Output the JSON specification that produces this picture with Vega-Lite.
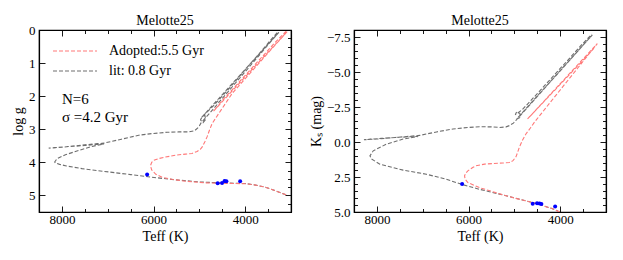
{
  "$schema": "https://vega.github.io/schema/vega-lite/v6.json",
  "padding": {"left": 10, "top": 13, "right": 5, "bottom": 5},
  "background": "white",
  "config": {
    "font": "Liberation Serif",
    "view": {"stroke": "black", "strokeWidth": 1.2},
    "axis": {
      "domainColor": "black", "domainWidth": 1.2,
      "tickColor": "black", "tickWidth": 0.9,
      "labelFont": "Liberation Serif", "labelFontSize": 13, "labelColor": "black",
      "titleFont": "Liberation Serif", "titleFontSize": 14, "titleFontWeight": "normal", "titleColor": "black",
      "labelPadding": 10, "titlePadding": 3, "grid": false, "labelFlush": false, "labelOverlap": false, "minExtent": 0, "zindex": 1
    },
    "axisBottom": {"labelPadding": 7, "titlePadding": 1},
    "title": {"font": "Liberation Serif", "fontSize": 14, "fontWeight": "normal", "color": "black", "offset": -4, "frame": "group"}
  },
  "datasets": {
    "isoG": [
      {"s": "lit: 0.8 Gyr", "i": 1, "teff": 3107, "logg": 4.98},
      {"s": "lit: 0.8 Gyr", "i": 2, "teff": 3300, "logg": 4.88},
      {"s": "lit: 0.8 Gyr", "i": 3, "teff": 3557, "logg": 4.75},
      {"s": "lit: 0.8 Gyr", "i": 4, "teff": 3800, "logg": 4.68},
      {"s": "lit: 0.8 Gyr", "i": 5, "teff": 4000, "logg": 4.64},
      {"s": "lit: 0.8 Gyr", "i": 6, "teff": 4500, "logg": 4.62},
      {"s": "lit: 0.8 Gyr", "i": 7, "teff": 5013, "logg": 4.59},
      {"s": "lit: 0.8 Gyr", "i": 8, "teff": 5500, "logg": 4.53},
      {"s": "lit: 0.8 Gyr", "i": 9, "teff": 6033, "logg": 4.45},
      {"s": "lit: 0.8 Gyr", "i": 10, "teff": 6500, "logg": 4.37},
      {"s": "lit: 0.8 Gyr", "i": 11, "teff": 6978, "logg": 4.29},
      {"s": "lit: 0.8 Gyr", "i": 12, "teff": 7561, "logg": 4.19},
      {"s": "lit: 0.8 Gyr", "i": 13, "teff": 7900, "logg": 4.11},
      {"s": "lit: 0.8 Gyr", "i": 14, "teff": 8050, "logg": 4.06},
      {"s": "lit: 0.8 Gyr", "i": 15, "teff": 8140, "logg": 4.02},
      {"s": "lit: 0.8 Gyr", "i": 16, "teff": 8157, "logg": 3.99},
      {"s": "lit: 0.8 Gyr", "i": 17, "teff": 8107, "logg": 3.89},
      {"s": "lit: 0.8 Gyr", "i": 18, "teff": 7924, "logg": 3.77},
      {"s": "lit: 0.8 Gyr", "i": 19, "teff": 7633, "logg": 3.64},
      {"s": "lit: 0.8 Gyr", "i": 20, "teff": 7343, "logg": 3.52},
      {"s": "lit: 0.8 Gyr", "i": 21, "teff": 7080, "logg": 3.44},
      {"s": "lit: 0.8 Gyr", "i": 22, "teff": 7500, "logg": 3.49},
      {"s": "lit: 0.8 Gyr", "i": 23, "teff": 7900, "logg": 3.53},
      {"s": "lit: 0.8 Gyr", "i": 24, "teff": 8288, "logg": 3.57},
      {"s": "lit: 0.8 Gyr", "i": 25, "teff": 8000, "logg": 3.545},
      {"s": "lit: 0.8 Gyr", "i": 26, "teff": 7500, "logg": 3.47},
      {"s": "lit: 0.8 Gyr", "i": 27, "teff": 7087, "logg": 3.42},
      {"s": "lit: 0.8 Gyr", "i": 28, "teff": 6700, "logg": 3.30},
      {"s": "lit: 0.8 Gyr", "i": 29, "teff": 6323, "logg": 3.18},
      {"s": "lit: 0.8 Gyr", "i": 30, "teff": 6033, "logg": 3.13},
      {"s": "lit: 0.8 Gyr", "i": 31, "teff": 5700, "logg": 3.09},
      {"s": "lit: 0.8 Gyr", "i": 32, "teff": 5450, "logg": 3.08},
      {"s": "lit: 0.8 Gyr", "i": 33, "teff": 5232, "logg": 3.08},
      {"s": "lit: 0.8 Gyr", "i": 34, "teff": 5100, "logg": 3.04},
      {"s": "lit: 0.8 Gyr", "i": 35, "teff": 5013, "logg": 2.93},
      {"s": "lit: 0.8 Gyr", "i": 36, "teff": 4960, "logg": 2.80},
      {"s": "lit: 0.8 Gyr", "i": 37, "teff": 4686, "logg": 2.37},
      {"s": "lit: 0.8 Gyr", "i": 38, "teff": 4358, "logg": 1.84},
      {"s": "lit: 0.8 Gyr", "i": 39, "teff": 4031, "logg": 1.31},
      {"s": "lit: 0.8 Gyr", "i": 40, "teff": 3703, "logg": 0.78},
      {"s": "lit: 0.8 Gyr", "i": 41, "teff": 3441, "logg": 0.35},
      {"s": "lit: 0.8 Gyr", "i": 42, "teff": 3266, "logg": 0.07},
      {"s": "lit: 0.8 Gyr", "i": 43, "teff": 4950, "logg": 2.64},
      {"s": "lit: 0.8 Gyr", "i": 44, "teff": 4880, "logg": 2.58},
      {"s": "lit: 0.8 Gyr", "i": 45, "teff": 4860, "logg": 2.70},
      {"s": "lit: 0.8 Gyr", "i": 46, "teff": 4920, "logg": 2.80},
      {"s": "lit: 0.8 Gyr", "i": 47, "teff": 4975, "logg": 2.72},
      {"s": "lit: 0.8 Gyr", "i": 48, "teff": 4940, "logg": 2.62},
      {"s": "lit: 0.8 Gyr", "i": 49, "teff": 4700, "logg": 2.30},
      {"s": "lit: 0.8 Gyr", "i": 50, "teff": 4358, "logg": 1.78},
      {"s": "lit: 0.8 Gyr", "i": 51, "teff": 4031, "logg": 1.25},
      {"s": "lit: 0.8 Gyr", "i": 52, "teff": 3703, "logg": 0.73},
      {"s": "lit: 0.8 Gyr", "i": 53, "teff": 3441, "logg": 0.30},
      {"s": "lit: 0.8 Gyr", "i": 54, "teff": 3280, "logg": 0.05},
      {"s": "Adopted:5.5 Gyr", "i": 1, "teff": 3107, "logg": 4.98},
      {"s": "Adopted:5.5 Gyr", "i": 2, "teff": 3300, "logg": 4.88},
      {"s": "Adopted:5.5 Gyr", "i": 3, "teff": 3557, "logg": 4.75},
      {"s": "Adopted:5.5 Gyr", "i": 4, "teff": 3800, "logg": 4.68},
      {"s": "Adopted:5.5 Gyr", "i": 5, "teff": 4000, "logg": 4.645},
      {"s": "Adopted:5.5 Gyr", "i": 6, "teff": 4500, "logg": 4.63},
      {"s": "Adopted:5.5 Gyr", "i": 7, "teff": 4867, "logg": 4.62},
      {"s": "Adopted:5.5 Gyr", "i": 8, "teff": 5303, "logg": 4.57},
      {"s": "Adopted:5.5 Gyr", "i": 9, "teff": 5600, "logg": 4.51},
      {"s": "Adopted:5.5 Gyr", "i": 10, "teff": 5814, "logg": 4.45},
      {"s": "Adopted:5.5 Gyr", "i": 11, "teff": 5950, "logg": 4.36},
      {"s": "Adopted:5.5 Gyr", "i": 12, "teff": 6040, "logg": 4.23},
      {"s": "Adopted:5.5 Gyr", "i": 13, "teff": 6068, "logg": 4.10},
      {"s": "Adopted:5.5 Gyr", "i": 14, "teff": 6040, "logg": 4.00},
      {"s": "Adopted:5.5 Gyr", "i": 15, "teff": 5996, "logg": 3.94},
      {"s": "Adopted:5.5 Gyr", "i": 16, "teff": 5900, "logg": 3.89},
      {"s": "Adopted:5.5 Gyr", "i": 17, "teff": 5740, "logg": 3.84},
      {"s": "Adopted:5.5 Gyr", "i": 18, "teff": 5500, "logg": 3.78},
      {"s": "Adopted:5.5 Gyr", "i": 19, "teff": 5303, "logg": 3.75},
      {"s": "Adopted:5.5 Gyr", "i": 20, "teff": 5160, "logg": 3.73},
      {"s": "Adopted:5.5 Gyr", "i": 21, "teff": 5050, "logg": 3.67},
      {"s": "Adopted:5.5 Gyr", "i": 22, "teff": 4980, "logg": 3.61},
      {"s": "Adopted:5.5 Gyr", "i": 23, "teff": 4941, "logg": 3.54},
      {"s": "Adopted:5.5 Gyr", "i": 24, "teff": 4880, "logg": 3.38},
      {"s": "Adopted:5.5 Gyr", "i": 25, "teff": 4832, "logg": 3.23},
      {"s": "Adopted:5.5 Gyr", "i": 26, "teff": 4780, "logg": 3.03},
      {"s": "Adopted:5.5 Gyr", "i": 27, "teff": 4723, "logg": 2.83},
      {"s": "Adopted:5.5 Gyr", "i": 28, "teff": 4576, "logg": 2.52},
      {"s": "Adopted:5.5 Gyr", "i": 29, "teff": 4430, "logg": 2.22},
      {"s": "Adopted:5.5 Gyr", "i": 30, "teff": 4286, "logg": 1.92},
      {"s": "Adopted:5.5 Gyr", "i": 31, "teff": 4031, "logg": 1.52},
      {"s": "Adopted:5.5 Gyr", "i": 32, "teff": 3703, "logg": 1.01},
      {"s": "Adopted:5.5 Gyr", "i": 33, "teff": 3376, "logg": 0.50},
      {"s": "Adopted:5.5 Gyr", "i": 34, "teff": 3085, "logg": 0.05},
      {"s": "Adopted:5.5 Gyr", "i": 35, "teff": 4690, "logg": 2.45},
      {"s": "Adopted:5.5 Gyr", "i": 36, "teff": 4600, "logg": 2.30},
      {"s": "Adopted:5.5 Gyr", "i": 37, "teff": 4450, "logg": 2.05},
      {"s": "Adopted:5.5 Gyr", "i": 38, "teff": 4286, "logg": 1.81},
      {"s": "Adopted:5.5 Gyr", "i": 39, "teff": 4031, "logg": 1.42},
      {"s": "Adopted:5.5 Gyr", "i": 40, "teff": 3703, "logg": 0.92},
      {"s": "Adopted:5.5 Gyr", "i": 41, "teff": 3376, "logg": 0.42},
      {"s": "Adopted:5.5 Gyr", "i": 42, "teff": 3110, "logg": 0.04}
    ],
    "isoK": [
      {"s": "lit: 0.8 Gyr", "i": 1, "teff": 3800, "ks": 5.5},
      {"s": "lit: 0.8 Gyr", "i": 2, "teff": 4000, "ks": 5.02},
      {"s": "lit: 0.8 Gyr", "i": 3, "teff": 4167, "ks": 4.77},
      {"s": "lit: 0.8 Gyr", "i": 4, "teff": 4457, "ks": 4.45},
      {"s": "lit: 0.8 Gyr", "i": 5, "teff": 4748, "ks": 4.21},
      {"s": "lit: 0.8 Gyr", "i": 6, "teff": 5254, "ks": 3.78},
      {"s": "lit: 0.8 Gyr", "i": 7, "teff": 5761, "ks": 3.38},
      {"s": "lit: 0.8 Gyr", "i": 8, "teff": 6146, "ks": 3.03},
      {"s": "lit: 0.8 Gyr", "i": 9, "teff": 6487, "ks": 2.66},
      {"s": "lit: 0.8 Gyr", "i": 10, "teff": 6922, "ks": 2.30},
      {"s": "lit: 0.8 Gyr", "i": 11, "teff": 7428, "ks": 2.01},
      {"s": "lit: 0.8 Gyr", "i": 12, "teff": 7935, "ks": 1.58},
      {"s": "lit: 0.8 Gyr", "i": 13, "teff": 8117, "ks": 1.22},
      {"s": "lit: 0.8 Gyr", "i": 14, "teff": 8152, "ks": 0.99},
      {"s": "lit: 0.8 Gyr", "i": 15, "teff": 8080, "ks": 0.63},
      {"s": "lit: 0.8 Gyr", "i": 16, "teff": 7791, "ks": 0.15},
      {"s": "lit: 0.8 Gyr", "i": 17, "teff": 7428, "ks": -0.21},
      {"s": "lit: 0.8 Gyr", "i": 18, "teff": 7100, "ks": -0.40},
      {"s": "lit: 0.8 Gyr", "i": 19, "teff": 7500, "ks": -0.34},
      {"s": "lit: 0.8 Gyr", "i": 20, "teff": 7900, "ks": -0.26},
      {"s": "lit: 0.8 Gyr", "i": 21, "teff": 8283, "ks": -0.16},
      {"s": "lit: 0.8 Gyr", "i": 22, "teff": 8000, "ks": -0.21},
      {"s": "lit: 0.8 Gyr", "i": 23, "teff": 7600, "ks": -0.32},
      {"s": "lit: 0.8 Gyr", "i": 24, "teff": 7065, "ks": -0.47},
      {"s": "lit: 0.8 Gyr", "i": 25, "teff": 6700, "ks": -0.72},
      {"s": "lit: 0.8 Gyr", "i": 26, "teff": 6341, "ks": -0.93},
      {"s": "lit: 0.8 Gyr", "i": 27, "teff": 6000, "ks": -1.04},
      {"s": "lit: 0.8 Gyr", "i": 28, "teff": 5761, "ks": -1.09},
      {"s": "lit: 0.8 Gyr", "i": 29, "teff": 5500, "ks": -1.08},
      {"s": "lit: 0.8 Gyr", "i": 30, "teff": 5326, "ks": -1.04},
      {"s": "lit: 0.8 Gyr", "i": 31, "teff": 5180, "ks": -1.08},
      {"s": "lit: 0.8 Gyr", "i": 32, "teff": 5109, "ks": -1.17},
      {"s": "lit: 0.8 Gyr", "i": 33, "teff": 5020, "ks": -1.35},
      {"s": "lit: 0.8 Gyr", "i": 34, "teff": 4965, "ks": -1.55},
      {"s": "lit: 0.8 Gyr", "i": 35, "teff": 4820, "ks": -2.08},
      {"s": "lit: 0.8 Gyr", "i": 36, "teff": 4493, "ks": -3.27},
      {"s": "lit: 0.8 Gyr", "i": 37, "teff": 4167, "ks": -4.47},
      {"s": "lit: 0.8 Gyr", "i": 38, "teff": 3841, "ks": -5.66},
      {"s": "lit: 0.8 Gyr", "i": 39, "teff": 3515, "ks": -6.85},
      {"s": "lit: 0.8 Gyr", "i": 40, "teff": 3298, "ks": -7.65},
      {"s": "lit: 0.8 Gyr", "i": 41, "teff": 4950, "ks": -1.65},
      {"s": "lit: 0.8 Gyr", "i": 42, "teff": 4870, "ks": -1.75},
      {"s": "lit: 0.8 Gyr", "i": 43, "teff": 4880, "ks": -2.05},
      {"s": "lit: 0.8 Gyr", "i": 44, "teff": 4950, "ks": -2.15},
      {"s": "lit: 0.8 Gyr", "i": 45, "teff": 4980, "ks": -1.95},
      {"s": "lit: 0.8 Gyr", "i": 46, "teff": 4830, "ks": -2.30},
      {"s": "lit: 0.8 Gyr", "i": 47, "teff": 4500, "ks": -3.45},
      {"s": "lit: 0.8 Gyr", "i": 48, "teff": 4170, "ks": -4.64},
      {"s": "lit: 0.8 Gyr", "i": 49, "teff": 3840, "ks": -5.82},
      {"s": "lit: 0.8 Gyr", "i": 50, "teff": 3515, "ks": -7.00},
      {"s": "lit: 0.8 Gyr", "i": 51, "teff": 3310, "ks": -7.70},
      {"s": "Adopted:5.5 Gyr", "i": 1, "teff": 3800, "ks": 5.5},
      {"s": "Adopted:5.5 Gyr", "i": 2, "teff": 4000, "ks": 5.02},
      {"s": "Adopted:5.5 Gyr", "i": 3, "teff": 4167, "ks": 4.77},
      {"s": "Adopted:5.5 Gyr", "i": 4, "teff": 4457, "ks": 4.45},
      {"s": "Adopted:5.5 Gyr", "i": 5, "teff": 4748, "ks": 4.21},
      {"s": "Adopted:5.5 Gyr", "i": 6, "teff": 5000, "ks": 4.00},
      {"s": "Adopted:5.5 Gyr", "i": 7, "teff": 5254, "ks": 3.77},
      {"s": "Adopted:5.5 Gyr", "i": 8, "teff": 5500, "ks": 3.52},
      {"s": "Adopted:5.5 Gyr", "i": 9, "teff": 5761, "ks": 3.26},
      {"s": "Adopted:5.5 Gyr", "i": 10, "teff": 6015, "ks": 2.90},
      {"s": "Adopted:5.5 Gyr", "i": 11, "teff": 6075, "ks": 2.65},
      {"s": "Adopted:5.5 Gyr", "i": 12, "teff": 6087, "ks": 2.42},
      {"s": "Adopted:5.5 Gyr", "i": 13, "teff": 6060, "ks": 2.22},
      {"s": "Adopted:5.5 Gyr", "i": 14, "teff": 6015, "ks": 2.06},
      {"s": "Adopted:5.5 Gyr", "i": 15, "teff": 5900, "ks": 1.80},
      {"s": "Adopted:5.5 Gyr", "i": 16, "teff": 5834, "ks": 1.70},
      {"s": "Adopted:5.5 Gyr", "i": 17, "teff": 5650, "ks": 1.58},
      {"s": "Adopted:5.5 Gyr", "i": 18, "teff": 5472, "ks": 1.54},
      {"s": "Adopted:5.5 Gyr", "i": 19, "teff": 5250, "ks": 1.50},
      {"s": "Adopted:5.5 Gyr", "i": 20, "teff": 5109, "ks": 1.47},
      {"s": "Adopted:5.5 Gyr", "i": 21, "teff": 5030, "ks": 1.33},
      {"s": "Adopted:5.5 Gyr", "i": 22, "teff": 4965, "ks": 1.06},
      {"s": "Adopted:5.5 Gyr", "i": 23, "teff": 4930, "ks": 0.75},
      {"s": "Adopted:5.5 Gyr", "i": 24, "teff": 4893, "ks": 0.39},
      {"s": "Adopted:5.5 Gyr", "i": 25, "teff": 4820, "ks": -0.15},
      {"s": "Adopted:5.5 Gyr", "i": 26, "teff": 4748, "ks": -0.57},
      {"s": "Adopted:5.5 Gyr", "i": 27, "teff": 4650, "ks": -1.00},
      {"s": "Adopted:5.5 Gyr", "i": 28, "teff": 4565, "ks": -1.40},
      {"s": "Adopted:5.5 Gyr", "i": 29, "teff": 4276, "ks": -2.59},
      {"s": "Adopted:5.5 Gyr", "i": 30, "teff": 3950, "ks": -3.92},
      {"s": "Adopted:5.5 Gyr", "i": 31, "teff": 3624, "ks": -5.25},
      {"s": "Adopted:5.5 Gyr", "i": 32, "teff": 3407, "ks": -6.14},
      {"s": "Adopted:5.5 Gyr", "i": 33, "teff": 3189, "ks": -7.03},
      {"s": "Adopted:5.5 Gyr", "i": 34, "teff": 4711, "ks": -1.65},
      {"s": "Adopted:5.5 Gyr", "i": 35, "teff": 4385, "ks": -2.78},
      {"s": "Adopted:5.5 Gyr", "i": 36, "teff": 4059, "ks": -3.91},
      {"s": "Adopted:5.5 Gyr", "i": 37, "teff": 3733, "ks": -5.04},
      {"s": "Adopted:5.5 Gyr", "i": 38, "teff": 3407, "ks": -6.17},
      {"s": "Adopted:5.5 Gyr", "i": 39, "teff": 3233, "ks": -6.80}
    ],
    "stars": [
      {"teff": 6140, "logg": 4.37, "ks": 3.0},
      {"teff": 4600, "logg": 4.63, "ks": 4.41},
      {"teff": 4505, "logg": 4.62, "ks": 4.37},
      {"teff": 4450, "logg": 4.56, "ks": 4.39},
      {"teff": 4410, "logg": 4.57, "ks": 4.42},
      {"teff": 4110, "logg": 4.57, "ks": 4.60}
    ],
    "notes": [
      {"teff": 8000, "logg": 2.09, "label": "N=6"},
      {"teff": 8000, "logg": 2.64, "label": "σ =4.2 Gyr"}
    ]
  },
  "bounds": "flush",
  "spacing": 63,
  "resolve": {"scale": {"color": "independent"}, "legend": {"color": "independent"}},
  "hconcat": [
    {
      "width": 252, "height": 182,
      "title": {"text": "Melotte25", "anchor": "middle"},
      "resolve": {"scale": {"x": "independent", "y": "independent"}, "axis": {"x": "independent", "y": "independent"}},
      "layer": [
        {
          "data": {"name": "isoG"},
          "mark": {"type": "line", "strokeWidth": 1.1, "strokeDash": [4, 2], "clip": true},
          "encoding": {
            "x": {"field": "teff", "type": "quantitative", "scale": {"domain": [8500, 3000], "nice": false, "zero": false},
              "axis": {"orient": "bottom", "title": "Teff (K)", "values": [3000, 3500, 4000, 4500, 5000, 5500, 6000, 6500, 7000, 7500, 8000, 8500], "format": "d",
                "labelExpr": "datum.value % 2000 === 0 ? datum.label : ''",
                "tickSize": {"condition": {"test": "datum.value % 2000 === 0", "value": -6}, "value": -3.5}}},
            "y": {"field": "logg", "type": "quantitative", "scale": {"domain": [0, 5.5], "reverse": true, "nice": false, "zero": false},
              "axis": {"orient": "left", "title": "log g", "values": [0, 0.25, 0.5, 0.75, 1, 1.25, 1.5, 1.75, 2, 2.25, 2.5, 2.75, 3, 3.25, 3.5, 3.75, 4, 4.25, 4.5, 4.75, 5, 5.25, 5.5], "format": "d",
                "labelExpr": "datum.value % 1 === 0 ? datum.label : ''",
                "tickSize": {"condition": {"test": "datum.value % 1 === 0", "value": -6}, "value": -3.5}}},
            "color": {"field": "s", "type": "nominal",
              "scale": {"domain": ["Adopted:5.5 Gyr", "lit: 0.8 Gyr"], "range": ["#ff7878", "#6e6e6e"]},
              "legend": {"orient": "none", "legendX": 25, "legendY": 10, "title": null, "padding": 0,
                "symbolType": "M-2.2,0H2.2", "symbolSize": 400,
                "symbolStrokeWidth": 1.2, "symbolDash": [4, 2], "labelFontSize": 14, "labelFont": "Liberation Serif", "labelColor": "black", "labelOffset": 23, "rowPadding": 2}},
            "order": {"field": "i", "type": "quantitative"}
          }
        },
        {
          "data": {"name": "stars"},
          "mark": {"type": "circle", "size": 16, "color": "#0000ff", "opacity": 1},
          "encoding": {
            "x": {"field": "teff", "type": "quantitative", "scale": {"domain": [8500, 3000], "nice": false, "zero": false},
              "axis": {"orient": "top", "title": null, "labels": false, "values": [3000, 3500, 4000, 4500, 5000, 5500, 6000, 6500, 7000, 7500, 8000, 8500],
                "tickSize": {"condition": {"test": "datum.value % 2000 === 0", "value": -6}, "value": -3.5}}},
            "y": {"field": "logg", "type": "quantitative", "scale": {"domain": [0, 5.5], "reverse": true, "nice": false, "zero": false},
              "axis": {"orient": "right", "title": null, "labels": false, "values": [0, 0.25, 0.5, 0.75, 1, 1.25, 1.5, 1.75, 2, 2.25, 2.5, 2.75, 3, 3.25, 3.5, 3.75, 4, 4.25, 4.5, 4.75, 5, 5.25, 5.5],
                "tickSize": {"condition": {"test": "datum.value % 1 === 0", "value": -6}, "value": -3.5}}}
          }
        },
        {
          "data": {"name": "notes"},
          "mark": {"type": "text", "align": "left", "baseline": "middle", "fontSize": 15, "font": "Liberation Serif", "color": "black"},
          "encoding": {
            "x": {"field": "teff", "type": "quantitative", "scale": {"domain": [8500, 3000], "nice": false, "zero": false}, "axis": null},
            "y": {"field": "logg", "type": "quantitative", "scale": {"domain": [0, 5.5], "reverse": true, "nice": false, "zero": false}, "axis": null},
            "text": {"field": "label"}
          }
        }
      ]
    },
    {
      "width": 252, "height": 182,
      "title": {"text": "Melotte25", "anchor": "middle"},
      "resolve": {"scale": {"x": "independent", "y": "independent"}, "axis": {"x": "independent", "y": "independent"}},
      "layer": [
        {
          "data": {"name": "isoK"},
          "mark": {"type": "line", "strokeWidth": 1.1, "strokeDash": [4, 2], "clip": true},
          "encoding": {
            "x": {"field": "teff", "type": "quantitative", "scale": {"domain": [8500, 3000], "nice": false, "zero": false},
              "axis": {"orient": "bottom", "title": "Teff (K)", "values": [3000, 3500, 4000, 4500, 5000, 5500, 6000, 6500, 7000, 7500, 8000, 8500], "format": "d",
                "labelExpr": "datum.value % 2000 === 0 ? datum.label : ''",
                "tickSize": {"condition": {"test": "datum.value % 2000 === 0", "value": -6}, "value": -3.5}}},
            "y": {"field": "ks", "type": "quantitative", "scale": {"domain": [-8, 5], "reverse": true, "nice": false, "zero": false},
              "axis": {"orient": "left", "title": "Kₛ (mag)", "values": [-8, -7.5, -7, -6.5, -6, -5.5, -5, -4.5, -4, -3.5, -3, -2.5, -2, -1.5, -1, -0.5, 0, 0.5, 1, 1.5, 2, 2.5, 3, 3.5, 4, 4.5, 5], "format": ".1f",
                "labelExpr": "datum.value % 2.5 === 0 ? datum.label : ''",
                "tickSize": {"condition": {"test": "datum.value % 2.5 === 0", "value": -6}, "value": -3.5}}},
            "color": {"field": "s", "type": "nominal",
              "scale": {"domain": ["Adopted:5.5 Gyr", "lit: 0.8 Gyr"], "range": ["#ff7878", "#6e6e6e"]}, "legend": null},
            "order": {"field": "i", "type": "quantitative"}
          }
        },
        {
          "data": {"name": "stars"},
          "mark": {"type": "circle", "size": 16, "color": "#0000ff", "opacity": 1},
          "encoding": {
            "x": {"field": "teff", "type": "quantitative", "scale": {"domain": [8500, 3000], "nice": false, "zero": false},
              "axis": {"orient": "top", "title": null, "labels": false, "values": [3000, 3500, 4000, 4500, 5000, 5500, 6000, 6500, 7000, 7500, 8000, 8500],
                "tickSize": {"condition": {"test": "datum.value % 2000 === 0", "value": -6}, "value": -3.5}}},
            "y": {"field": "ks", "type": "quantitative", "scale": {"domain": [-8, 5], "reverse": true, "nice": false, "zero": false},
              "axis": {"orient": "right", "title": null, "labels": false, "values": [-8, -7.5, -7, -6.5, -6, -5.5, -5, -4.5, -4, -3.5, -3, -2.5, -2, -1.5, -1, -0.5, 0, 0.5, 1, 1.5, 2, 2.5, 3, 3.5, 4, 4.5, 5],
                "tickSize": {"condition": {"test": "datum.value % 2.5 === 0", "value": -6}, "value": -3.5}}}
          }
        }
      ]
    }
  ]
}
